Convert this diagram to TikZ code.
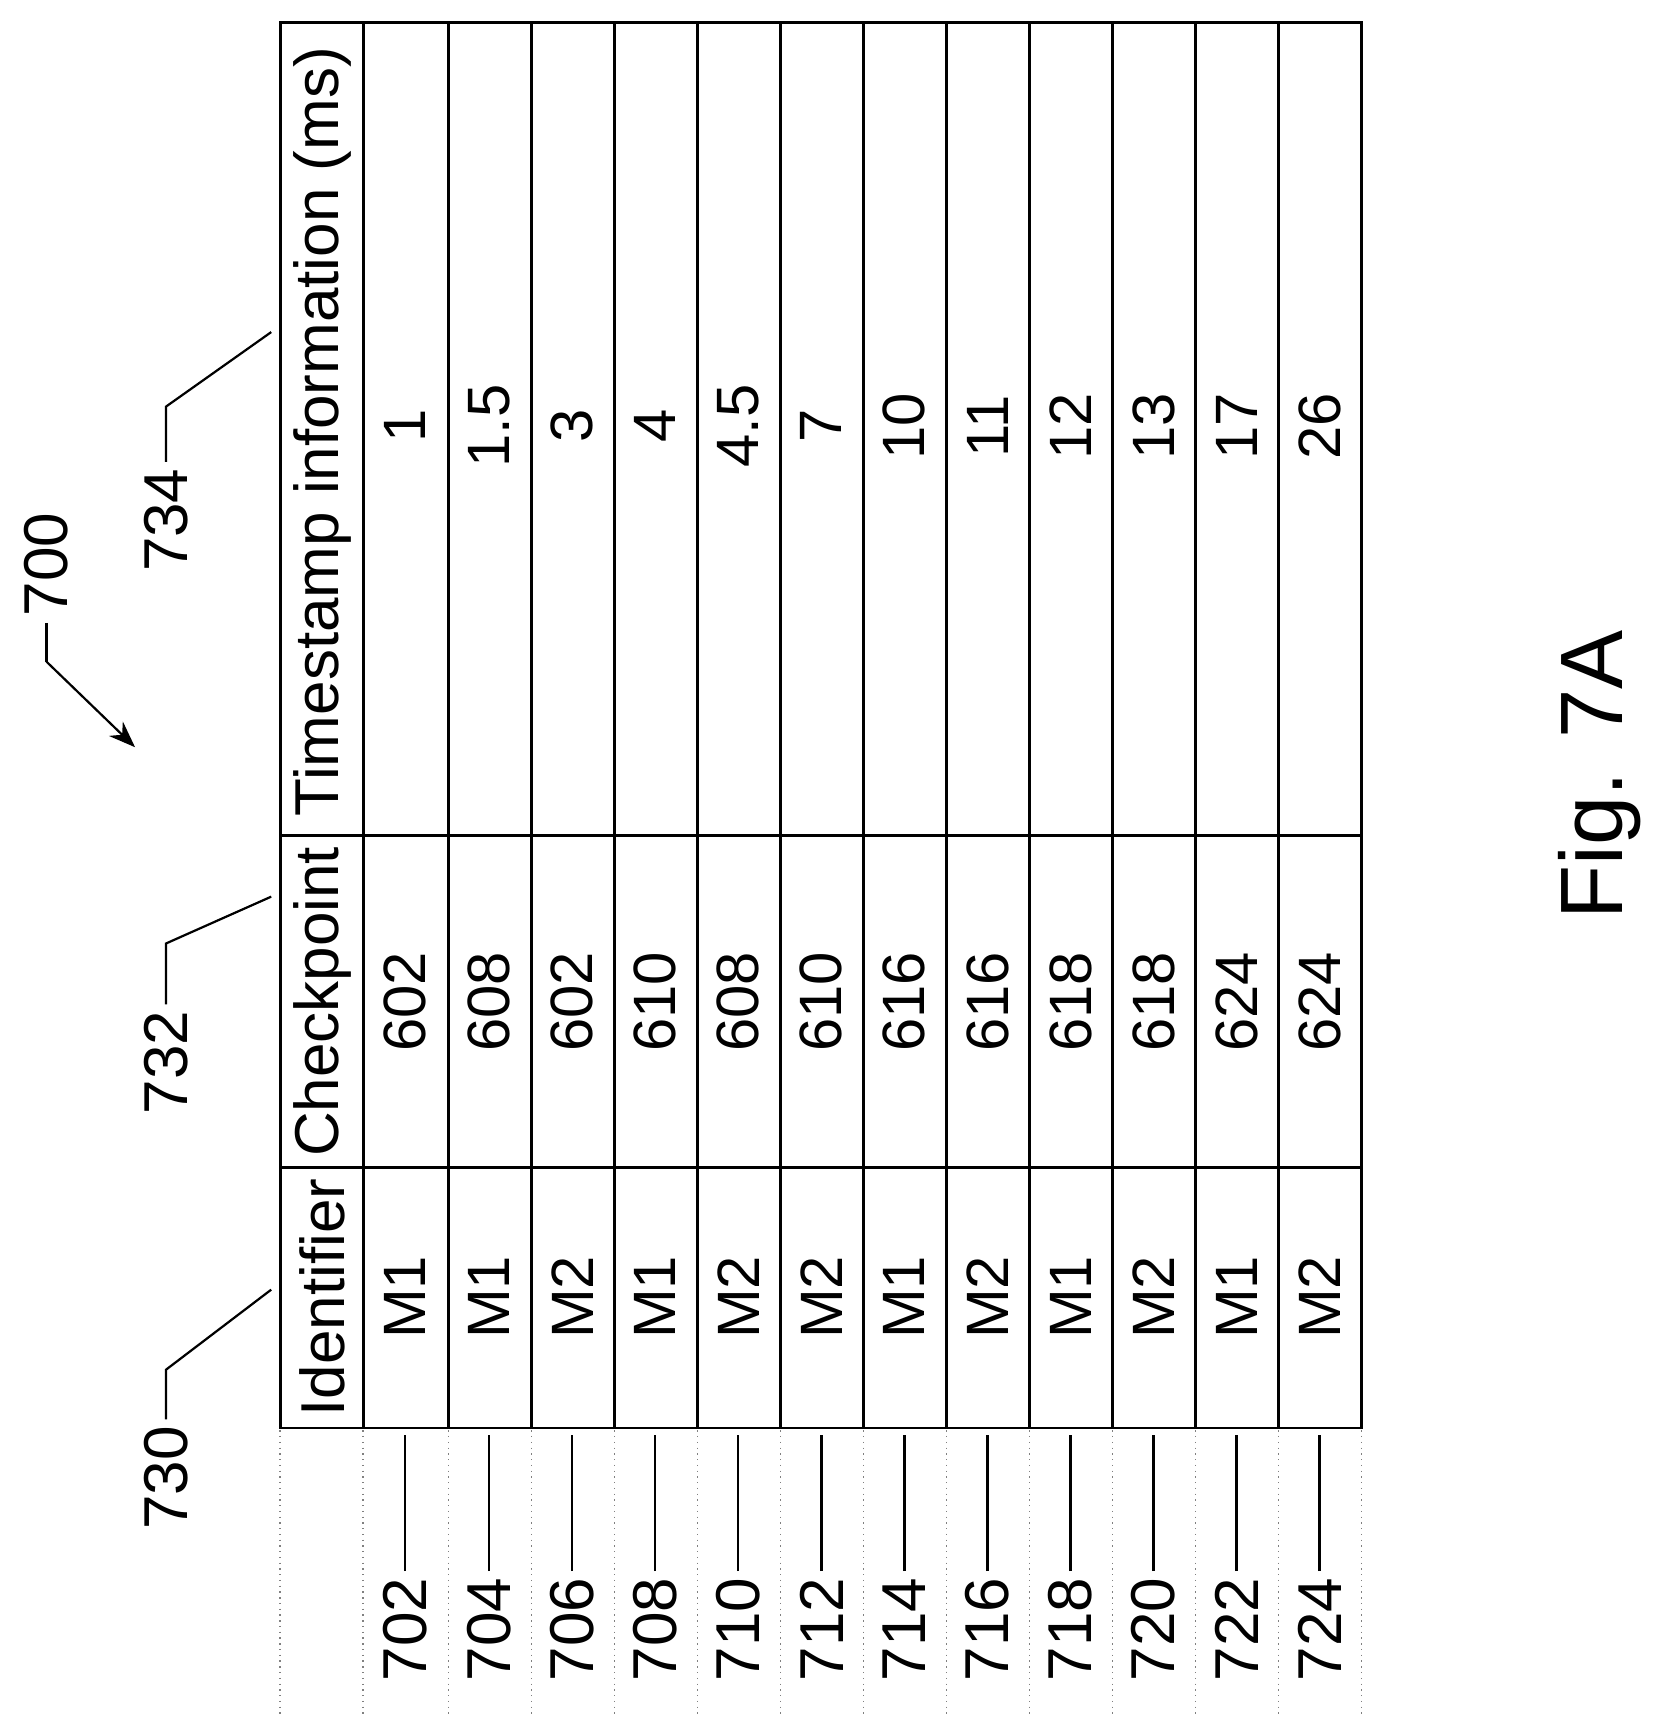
\documentclass[tikz,border=0pt]{standalone}
\usepackage{fontspec}
\setmainfont{Liberation Sans}
\usetikzlibrary{positioning,arrows.meta}

\begin{document}
\begin{tikzpicture}[
    x=0.5pt, y=-0.5pt,
    cell/.style={rotate=90, font=\fontsize{27}{30}\selectfont, inner sep=0pt},
    head/.style={rotate=90, font=\fontsize{28}{30}\selectfont, inner sep=0pt},
    ref/.style={rotate=90, font=\fontsize{28}{30}\selectfont, inner sep=0pt, outer sep=3pt},
    grid/.style={line width=1.3pt},
    lead/.style={line width=1pt},
    guide/.style={dotted, gray, line width=0.6pt},
    arrow/.style={-{Stealth[length=12pt,width=9pt]}, line width=1pt}
]
\useasboundingbox (0,0) rectangle (1500,1561);

% table frame
\draw[grid] (253,20) rectangle (1230,1290);
\foreach \x in {328,405,480,555,630,705,780,855,930,1005,1080,1155}
  \draw[grid] (\x,20) -- (\x,1290);
\draw[grid] (253,755) -- (1230,755);
\draw[grid] (253,1055) -- (1230,1055);

% dotted guides below the table
\foreach \x in {253,328,405,480,555,630,705,780,855,930,1005,1080,1155,1230}
  \draw[guide] (\x,1292) -- (\x,1548);

% headers
\node[head] (hid) at (291,1172) {Identifier};
\node[head] (hcp) at (291,905) {Checkpoint};
\node[head] (hts) at (291,390) {Timestamp information (ms)};

% rows
\foreach \c/\id/\cp/\ts/\lbl [count=\i] in {
  366/M1/602/1/702, 442/M1/608/1.5/704, 517/M2/602/3/706,
  592/M1/610/4/708, 667/M2/608/4.5/710, 742/M2/610/7/712,
  817/M1/616/10/714, 892/M2/616/11/716, 967/M1/618/12/718,
  1042/M2/618/13/720, 1117/M1/624/17/722, 1192/M2/624/26/724}
{
  \node[cell] (id\i) at (\c,1172) {\id};
  \node[cell] (cp\i) at (\c,905) {\cp};
  \node[cell] (ts\i) at (\c,385) {\ts};
  \node[ref] (r\i) at (\c,1472) {\lbl};
  \draw[lead] (r\i.east) -- (\c,1296);
}

% column references
\node[ref] (c730) at (150,1335) {730};
\node[ref] (c732) at (150,960) {732};
\node[ref] (c734) at (150,470) {734};
\draw[lead] (c730.east) -- ++(0,-45) -- (245,1165);
\draw[lead] (c732.east) -- ++(0,-55) -- (245,810);
\draw[lead] (c734.east) -- ++(0,-50) -- (245,300);

% figure reference
\node[ref] (n700) at (42,510) {700};
\coordinate (a700) at (122,675);
\draw[lead] (n700.west) -- ++(0,35) coordinate (k700);
\draw[arrow] (k700) -- (a700);

\node[rotate=90, font=\fontsize{40}{44}\selectfont, inner sep=0pt] (fig) at (1445,700) {Fig. 7A};
\end{tikzpicture}
\end{document}
